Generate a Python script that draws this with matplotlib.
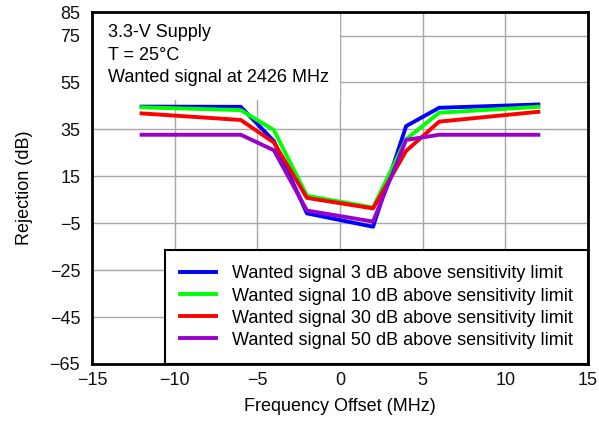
import matplotlib.pyplot as plt
from matplotlib.patches import Rectangle

plt.rcParams['font.family'] = ['Liberation Sans', 'DejaVu Sans']

# frequency offsets (MHz)
offsets = [-12, -6, -4, -2, 2, 4, 6, 12]

# rejection (dB) per wanted-signal level
rej_3db = [44.7, 44.6, 30.0, -0.8, -6.5, 36.4, 44.2, 45.6]
rej_10db = [44.4, 43.2, 34.7, 6.7, 1.7, 30.8, 42.1, 44.6]
rej_30db = [41.8, 39.0, 29.4, 5.8, 1.3, 25.8, 38.3, 42.5]
rej_50db = [32.7, 32.7, 26.1, 0.4, -4.3, 30.5, 32.7, 32.7]

labels = ['Wanted signal 3 dB above sensitivity limit',
          'Wanted signal 10 dB above sensitivity limit',
          'Wanted signal 30 dB above sensitivity limit',
          'Wanted signal 50 dB above sensitivity limit']
colors = ['#0000ff', '#00ff00', '#ff0000', '#9900cc']

yticks = [85, 75, 55, 35, 15, -5, -25, -45, -65]
xticks = [-15, -10, -5, 0, 5, 10, 15]

fig = plt.figure(figsize=(5.99, 4.23), dpi=100)
ax = fig.add_axes([0.1536, 0.1395, 0.828, 0.832])

for ys, c, lab in zip([rej_3db, rej_10db, rej_30db, rej_50db], colors, labels):
    ax.plot(offsets, ys, color=c, lw=2.8, label=lab, zorder=3)

ax.set_xlim(-15, 15)
ax.set_ylim(-65, 85)
ax.set_xticks(xticks)
ax.set_yticks(yticks)
ax.set_xticklabels([str(t).replace('-', '\u2212') for t in xticks])
ax.set_yticklabels([str(t).replace('-', '\u2212') for t in yticks])
ax.tick_params(length=0, labelsize=13, colors='#111111')
ax.tick_params(axis='y', pad=8.5)
ax.tick_params(axis='x', pad=6)
ax.grid(True, color='#a8a8a8', lw=1)
for s in ax.spines.values():
    s.set_linewidth(2)
    s.set_color('black')

ax.set_xlabel('Frequency Offset (MHz)', fontsize=13, labelpad=6)
ax.set_ylabel('Rejection (dB)', fontsize=13, labelpad=12)

# white box behind the conditions note
ax.add_patch(Rectangle((0, 0.75), 0.5, 0.25, transform=ax.transAxes,
                       facecolor='white', edgecolor='none', zorder=2.5))
ax.text(0.032, 0.965, '3.3-V Supply\nT = 25\u00b0C\nWanted signal at 2426 MHz',
        transform=ax.transAxes, fontsize=13, va='top', ha='left',
        linespacing=1.4, zorder=4)

leg = ax.legend(loc='lower right', fontsize=13, frameon=True, fancybox=False,
                edgecolor='black', borderaxespad=0, handlelength=2.0,
                labelspacing=0.28, borderpad=0.85, handletextpad=0.85)
leg.get_frame().set_linewidth(1.5)
leg.get_frame().set_alpha(1)
leg.set_zorder(5)

fig.savefig('out.png', dpi=100)
